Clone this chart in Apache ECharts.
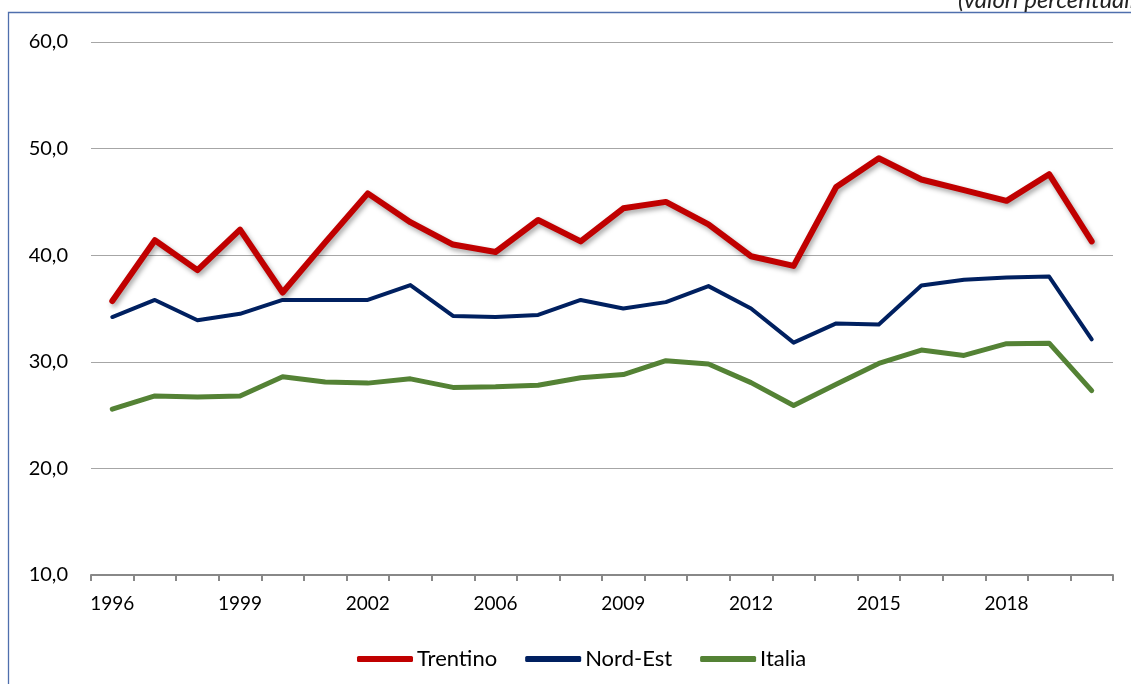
<!DOCTYPE html>
<html>
<head>
<meta charset="utf-8">
<script src="https://cdn.jsdelivr.net/npm/echarts@6/dist/echarts.min.js"></script>
<style>
html,body{margin:0;padding:0;background:#fff;}
#c{width:1131px;height:684px;}
</style>
</head>
<body>
<div id="c"></div>
<script>
const categories = ['1996','1997','1998','1999','2000','2001','2002','2003','2005','2006','2007','2008','2009','2010','2011','2012','2013','2014','2015','2016','2017','2018','2019','2020'];
const trentino = [35.7,41.4,38.6,42.4,36.5,41.2,45.8,43.1,41.0,40.3,43.3,41.3,44.4,45.0,42.9,39.9,39.0,46.4,49.1,47.1,46.1,45.1,47.6,41.3];
const nordEst  = [34.2,35.8,33.9,34.5,35.8,35.8,35.8,37.2,34.3,34.2,34.4,35.8,35.0,35.6,37.1,35.0,31.8,33.6,33.5,37.15,37.7,37.9,38.0,32.1];
const italia   = [25.55,26.8,26.7,26.8,28.6,28.1,28.0,28.4,27.6,27.65,27.8,28.5,28.8,30.1,29.8,28.05,25.9,27.9,29.85,31.1,30.6,31.7,31.75,27.3];
const seriesNames = ['Trentino','Nord-Est','Italia'];
const yTicks = {min:10, max:60, interval:10};
const subtitle = '(valori percentuali)';

const FONT = 'Lato';
const chart = echarts.init(document.getElementById('c'));
chart.setOption({
  animation:false,
  backgroundColor:'#fff',
  grid:{left:91,right:18,top:42,bottom:109,containLabel:false},
  graphic:[
    {type:'rect',shape:{x:8.5,y:12.5,width:1200,height:700},style:{fill:'none',stroke:'#4f6fad',lineWidth:1.3},silent:true},
    {type:'text',x:958,y:-12,style:{text:subtitle,font:'italic 24px Lato',fill:'#222'},silent:true}
  ],
  legend:{
    left:352, top:643,
    itemWidth:56, itemHeight:6, itemGap:28,
    icon:'roundRect',
    textStyle:{fontFamily:FONT,fontSize:22,color:'#000',padding:[0,0,0,-1]},
    data:seriesNames
  },
  xAxis:{
    type:'category',
    data:categories,
    boundaryGap:true,
    axisLine:{lineStyle:{color:'#888',width:2}},
    axisTick:{show:true,interval:0,length:6,lineStyle:{color:'#888',width:2}},
    axisLabel:{interval:2,margin:19,fontFamily:FONT,fontSize:19,color:'#000'},
    splitLine:{show:false}
  },
  yAxis:{
    type:'value',
    min:yTicks.min,max:yTicks.max,interval:yTicks.interval,
    axisLine:{show:false},
    axisTick:{show:false},
    axisLabel:{margin:23,fontFamily:FONT,fontSize:20,color:'#000',
      formatter:v=>v.toFixed(1).replace('.',',')},
    splitLine:{lineStyle:{color:'#a6a6a6',width:1}}
  },
  series:[
    {name:seriesNames[0],type:'line',data:trentino,symbol:'none',z:4,
     lineStyle:{color:'#C00000',width:6,cap:'round',join:'round',shadowColor:'rgba(0,0,0,0.35)',shadowBlur:5,shadowOffsetX:2,shadowOffsetY:3},
     itemStyle:{color:'#C00000'}},
    {name:seriesNames[1],type:'line',data:nordEst,symbol:'none',z:3,
     lineStyle:{color:'#002060',width:4,cap:'round',join:'round'},
     itemStyle:{color:'#002060'}},
    {name:seriesNames[2],type:'line',data:italia,symbol:'none',z:2,
     lineStyle:{color:'#548235',width:5,cap:'round',join:'round'},
     itemStyle:{color:'#548235'}}
  ]
});
</script>
</body>
</html>
